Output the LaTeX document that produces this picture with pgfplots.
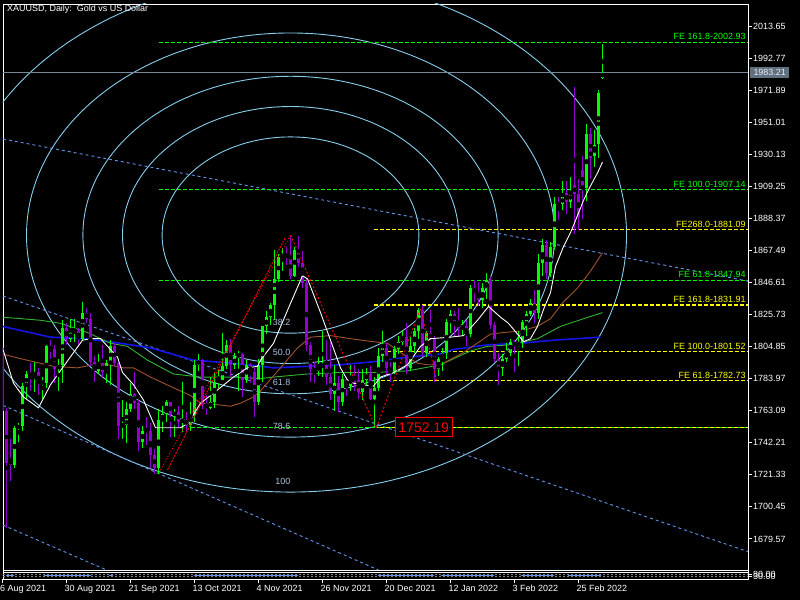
\documentclass[border=0pt]{standalone}
\usepackage{pgfplots}
\pgfplotsset{compat=1.18}
\usepackage{pgfplotstable}
\usepackage{fontspec}
\setmainfont{Liberation Sans}
\pgfdeclarelayer{bg}
\pgfsetlayers{bg,main}
\definecolor{bullc}{RGB}{0,255,0}
\definecolor{bearc}{RGB}{148,0,211}
\definecolor{arcc}{RGB}{135,206,235}
\definecolor{chanc}{RGB}{100,149,237}
\definecolor{mabrown}{RGB}{160,82,45}
\definecolor{magreen}{RGB}{50,180,50}
\definecolor{mablue}{RGB}{20,20,230}
\definecolor{pricel}{RGB}{119,136,153}
\definecolor{lvl}{RGB}{168,196,224}
\definecolor{boxg}{RGB}{96,112,128}
\definecolor{yelc}{RGB}{255,255,0}
\definecolor{redc}{RGB}{255,0,0}

\pgfplotstableread{
i o h l c
3 1728 1753 1726 1752
4 1752 1755 1743 1753
5 1753 1781 1750 1779
6 1779 1789 1771 1787
8 1786 1795 1775 1788
10 1781 1785 1771 1782
11 1781 1806 1778 1805
14 1790 1797 1776 1793
15 1793 1822 1781 1817
17 1810 1823 1808 1814
18 1814 1823 1808 1815
20 1810 1834 1809 1827
24 1789 1800 1787 1794
26 1788 1796 1781 1794
27 1794 1809 1780 1805
30 1753 1770 1745 1754
31 1754 1769 1742 1764
32 1764 1781 1762 1774
35 1743 1753 1739 1750
39 1726 1764 1722 1757
40 1757 1766 1749 1761
41 1761 1770 1756 1769
43 1760 1764 1746 1762
45 1756 1782 1749 1757
47 1754 1769 1750 1760
48 1760 1796 1756 1793
49 1793 1800 1789 1796
52 1765 1785 1764 1769
53 1769 1788 1765 1782
54 1782 1790 1778 1783
55 1783 1814 1783 1792
56 1792 1809 1790 1806
58 1793 1801 1790 1798
59 1798 1802 1776 1800
61 1783 1796 1781 1793
64 1769 1797 1767 1793
65 1793 1818 1782 1818
66 1818 1828 1813 1824
67 1824 1833 1819 1832
68 1832 1868 1822 1849
69 1849 1865 1847 1863
70 1863 1869 1854 1865
73 1851 1870 1850 1868
79 1789 1798 1786 1792
80 1792 1815 1785 1793
83 1774 1793 1763 1781
85 1769 1787 1766 1784
87 1779 1793 1776 1785
90 1775 1790 1770 1783
91 1783 1791 1780 1787
93 1771 1785 1752.19 1778
94 1778 1804 1776 1799
95 1799 1815 1795 1804
98 1789 1805 1787 1803
99 1803 1812 1800 1808
100 1808 1815 1806 1811
102 1791 1811 1789 1805
103 1805 1817 1801 1815
104 1815 1830 1810 1829
106 1801 1815 1798 1814
109 1790 1798 1786 1797
110 1797 1804 1789 1801
111 1801 1823 1797 1821
112 1821 1829 1814 1826
115 1817 1822 1812 1818
117 1813 1845 1811 1843
120 1835 1846 1830 1843
121 1843 1853 1836 1848
125 1791 1800 1786 1797
126 1797 1807 1795 1801
127 1801 1810 1799 1808
129 1805 1815 1792 1808
130 1808 1822 1804 1821
131 1821 1828 1812 1826
132 1826 1836 1825 1833
134 1827 1865 1823 1859
135 1859 1875 1851 1871
137 1853 1873 1850 1870
138 1870 1902 1868 1898
140 1898 1913 1894 1902
142 1899 1915 1895 1905
146 1908 1950 1900 1943
148 1929 1946 1922 1936
149 1937 1972 1928 1970
150 1980 2002 1979 1983.21
}\bull

\pgfplotstableread{
i o h l c
0 1804 1805 1759 1763
1 1763 1765 1687 1729
2 1731 1745 1717 1728
7 1787 1794 1776 1786
9 1788 1791 1773 1781
12 1805 1809 1797 1803
13 1803 1806 1781 1790
16 1817 1820 1806 1810
19 1815 1817 1805 1810
21 1827 1830 1820 1823
22 1823 1827 1792 1795
23 1795 1799 1782 1789
25 1794 1806 1785 1788
28 1805 1807 1792 1794
29 1794 1795 1745 1753
33 1774 1788 1764 1768
34 1768 1770 1737 1743
36 1751 1759 1741 1750
37 1750 1755 1726 1734
38 1734 1738 1721.9 1726
42 1769 1769 1746 1760
44 1762 1766 1752 1756
46 1757 1762 1749 1754
50 1796 1797 1764 1767
51 1767 1773 1760 1765
57 1806 1810 1785 1793
60 1800 1801 1772 1783
62 1793 1794 1781 1788
63 1788 1791 1759 1769
71 1865 1870 1858 1863
72 1863 1877 1849 1851
74 1868 1877 1857 1859
75 1859 1867 1843 1846
76 1846 1849 1802 1806
77 1806 1808 1782 1790
78 1790 1795 1781 1789
81 1793 1809 1780 1785
82 1785 1808 1770 1774
84 1781 1786 1762 1769
86 1784 1785 1773 1779
88 1785 1793 1776 1783
89 1783 1790 1771 1775
92 1787 1792 1770 1771
96 1804 1807 1786 1791
97 1791 1795 1782 1789
101 1811 1820 1787 1791
105 1829 1832 1798 1801
107 1814 1829 1809 1810
108 1810 1812 1782 1790
113 1826 1828 1812 1821
114 1821 1830 1811 1817
116 1818 1822 1805 1813
118 1843 1848 1834 1840
119 1840 1847 1831 1835
122 1848 1850 1816 1819
123 1819 1821 1795 1797
124 1797 1801 1780 1791
128 1808 1809 1788 1805
133 1833 1842 1820 1827
136 1871 1874 1849 1853
139 1898 1902 1887 1897
141 1905 1913 1891 1899
143 1910 1974 1878 1904
144 1904 1914 1881 1889
145 1920 1929 1888 1908
147 1943 1947 1914 1928
}\bear

\begin{document}
\begin{tikzpicture}[x=1bp,y=1bp]
\begin{axis}[
  scale only axis,
  width=745bp, height=575.3bp,
  xmin=0.125, xmax=186.375, ymin=1653.29, ymax=2027.98,
  axis background/.style={fill=black},
  axis line style={white, line width=0.9bp},
  xtick={16,32,48,64,80,96,112,128,144},
  xticklabels={30 Aug 2021,21 Sep 2021,13 Oct 2021,4 Nov 2021,26 Nov 2021,20 Dec 2021,12 Jan 2022,3 Feb 2022,25 Feb 2022},
  ytick={1679.57,1700.45,1721.33,1742.21,1763.09,1783.97,1804.85,1825.73,1846.61,1867.49,1888.37,1909.25,1930.13,1951.01,1971.89,1992.77,2013.65},
  yticklabels={1679.57,1700.45,1721.33,1742.21,1763.09,1783.97,1804.85,1825.73,1846.61,1867.49,1888.37,1909.25,1930.13,1951.01,1971.89,1992.77,2013.65},
  extra y ticks={1656.29,1654.99},
  extra y tick labels={80.00,30.00},
  xtick pos=bottom, ytick pos=right, yticklabel pos=right,
  tick align=outside, major tick length=4bp,
  every tick/.style={white, line width=0.9bp},
  xticklabel style={white, font=\fontsize{9}{10}\selectfont, anchor=north west, inner sep=0pt, xshift=-2bp, yshift=-1.7bp},
  yticklabel style={white, font=\fontsize{9}{10}\selectfont, anchor=west, inner sep=0pt, xshift=1bp},
  unbounded coords=jump,
]
% Fibonacci arcs
\draw[arcc, line width=0.9bp] (axis cs:72,1877.5) ellipse [x radius=84, y radius=167.4];
\draw[arcc, line width=0.9bp] (axis cs:72,1877.5) ellipse [x radius=66, y radius=131.6];
\draw[arcc, line width=0.9bp] (axis cs:72,1877.5) ellipse [x radius=51.9, y radius=103.4];
\draw[arcc, line width=0.9bp] (axis cs:72,1877.5) ellipse [x radius=42, y radius=83.7];
\draw[arcc, line width=0.9bp] (axis cs:72,1877.5) ellipse [x radius=32.1, y radius=63.9];
% channel lines
\addplot[draw=chanc, line width=0.9bp, dash pattern=on 3bp off 3bp] coordinates {(0.125,1940.05) (186.375,1847.5)};
\addplot[draw=chanc, line width=0.9bp, dash pattern=on 3bp off 3bp] coordinates {(0.125,1837.8) (186.375,1671.3)};
\addplot[draw=chanc, line width=0.9bp, dash pattern=on 3bp off 3bp] coordinates {(0.125,1766.6) (94,1659.35)};
\addplot[draw=chanc, line width=0.9bp, dash pattern=on 3bp off 3bp] coordinates {(0.125,1688.6) (26,1659.35)};
% FE green
\addplot[draw=bullc, line width=1bp, dash pattern=on 4bp off 2bp] coordinates {(39,2002.93) (186.375,2002.93)};
\addplot[draw=bullc, line width=1bp, dash pattern=on 4bp off 2bp] coordinates {(39,1907.14) (186.375,1907.14)};
\addplot[draw=bullc, line width=1bp, dash pattern=on 4bp off 2bp] coordinates {(39,1847.94) (186.375,1847.94)};
\addplot[draw=bullc, line width=1bp, dash pattern=on 4bp off 2bp] coordinates {(47,1752.19) (186.375,1752.19)};
% FE yellow
\addplot[draw=yelc, line width=1.1bp, dash pattern=on 4bp off 2bp] coordinates {(92.75,1881.09) (186.375,1881.09)};
\addplot[draw=yelc, line width=1.1bp, dash pattern=on 4bp off 2bp] coordinates {(92.75,1831.91) (186.375,1831.91)};
\addplot[draw=yelc, line width=1.1bp, dash pattern=on 4bp off 2bp] coordinates {(94.5,1801.52) (186.375,1801.52)};
\addplot[draw=yelc, line width=1.1bp, dash pattern=on 4bp off 2bp] coordinates {(94.5,1782.73) (186.375,1782.73)};
\addplot[draw=yelc, line width=1.8bp, dash pattern=on 4bp off 2bp, dash phase=3bp] coordinates {(93.5,1752.19) (186.375,1752.19)};
% price line
\addplot[draw=pricel, line width=0.9bp] coordinates {(0.125,1983.21) (186.375,1983.21)};
% moving averages
\addplot[draw=mablue, line width=1.6bp] coordinates {(0,1818) (12,1811) (20.25,1810) (27,1808) (37,1804) (47.75,1796) (57.75,1794) (64.5,1792) (67.75,1791) (76.25,1792) (84.5,1793) (92.75,1795) (101.25,1798) (109.5,1800) (112.75,1803) (121.25,1806) (129.5,1807) (137.75,1809) (149.5,1811)};
\addplot[draw=magreen, line width=0.9bp] coordinates {(0,1824) (9.5,1822) (14.5,1820) (21.25,1814) (27,1807) (31.25,1805) (36.25,1796) (42.75,1787) (49.5,1785) (57.75,1785) (64.5,1784) (67.75,1785) (76.25,1787) (84.5,1788) (92.75,1788) (101.25,1789) (109.5,1793) (117,1802) (121.25,1805) (127,1806) (133.75,1810) (139.5,1818) (145.25,1823) (150,1827)};
\addplot[draw=mabrown, line width=0.9bp] coordinates {(0,1800) (4.5,1797) (12.75,1792) (18.75,1791) (24.5,1794) (30.25,1791) (32.75,1791) (37,1785) (42.75,1778) (47,1773) (49.5,1768) (53.75,1767) (57,1766) (59.5,1768) (62.75,1772) (64.5,1776) (69.5,1791) (73.75,1804) (77,1811) (82,1812) (87,1810) (92.75,1808) (96.25,1807) (99.5,1801) (103.75,1794) (106.25,1793) (109.5,1793) (115.25,1801) (122,1813) (125.25,1814) (129.5,1815) (133.75,1818) (137,1823) (140.25,1834) (143.75,1843) (147,1854) (148.75,1861) (150,1866)};
% candles: wicks
\addplot[only marks, mark=none, forget plot, error bars/.cd, y dir=both, y explicit, error mark=none, error bar style={draw=bullc, line width=1bp}]
  table[x=i, y expr={(\thisrow{h}+\thisrow{l})/2}, y error expr={(\thisrow{h}-\thisrow{l})/2}] {\bull};
\addplot[only marks, mark=none, forget plot, error bars/.cd, y dir=both, y explicit, error mark=none, error bar style={draw=bearc, line width=1bp}]
  table[x=i, y expr={(\thisrow{h}+\thisrow{l})/2}, y error expr={(\thisrow{h}-\thisrow{l})/2}] {\bear};
% candles: bodies
\addplot[only marks, mark=none, forget plot, error bars/.cd, y dir=both, y explicit, error mark=none, error bar style={draw=bullc, line width=3bp}]
  table[x=i, y expr={(\thisrow{o}+\thisrow{c})/2}, y error expr={max((\thisrow{c}-\thisrow{o})/2,0.35)}] {\bull};
\addplot[only marks, mark=none, forget plot, error bars/.cd, y dir=both, y explicit, error mark=none, error bar style={draw=bearc, line width=3bp}]
  table[x=i, y expr={(\thisrow{o}+\thisrow{c})/2}, y error expr={max((\thisrow{o}-\thisrow{c})/2,0.35)}] {\bear};
% white fast MA
\addplot[draw=white, line width=0.9bp] coordinates {(0,1804) (2.75,1781) (5.25,1772) (9,1765) (12,1780) (15,1791) (20,1809) (22,1810) (24.5,1810) (28.75,1798) (30,1788) (32.75,1780) (35.25,1770) (38.25,1752) (41.25,1752) (44.5,1752) (46.5,1755) (49.5,1768) (52,1773) (57.75,1785) (61.25,1791) (63.75,1792) (64.5,1796) (67.75,1807) (72,1833) (75,1851) (76.25,1849) (79.5,1827) (82,1809) (84.5,1791) (86.25,1783) (87.75,1781) (92.75,1779) (94.5,1785) (97.75,1788) (101.25,1793) (104.5,1805) (107,1810) (112,1811) (115.25,1812) (118.75,1822) (121.5,1831) (124.5,1824) (126.5,1820) (128.75,1813) (130.25,1808) (132,1810) (133.75,1818) (135.25,1829) (137,1840) (138.25,1857) (140.25,1870) (142,1879) (143.25,1887) (145.25,1900) (146.5,1907) (148.75,1918) (150,1925)};
% red legs
\addplot[draw=redc, line width=0.9bp, dash pattern=on 2bp off 1bp] coordinates {(41.25,1724.5) (70.75,1876.2)};
\addplot[draw=redc, line width=0.9bp, dash pattern=on 1bp off 2bp] coordinates {(39.5,1724.5) (72,1877.5)};
\addplot[draw=redc, line width=0.9bp, dash pattern=on 2bp off 2bp] coordinates {(72,1877.5) (93.25,1752.5)};
\addplot[draw=redc, line width=0.9bp, dash pattern=on 2bp off 2bp] coordinates {(93.5,1752.2) (104.5,1830) (108.5,1783)};
% indicator sub-window (separator, levels, line)
\addplot[draw=white, line width=0.9bp] coordinates {(0.125,1658.89) (186.375,1658.89)};
\addplot[draw=white, line width=0.9bp] coordinates {(0.125,1657.59) (186.375,1657.59)};
\addplot[draw=gray, line width=0.8bp, dash pattern=on 2bp off 2bp] coordinates {(0.125,1656.29) (186.375,1656.29)};
\addplot[draw=gray, line width=0.8bp, dash pattern=on 2bp off 2bp] coordinates {(0.125,1654.99) (186.375,1654.99)};
\addplot[draw=chanc, line width=1.5bp] coordinates {(0.75,1655.64) (2.75,1655.64) (3,nan) (10.25,1655.64) (22,1655.64) (23,nan) (26.5,1655.64) (27.5,1655.64) (28,nan) (47.75,1655.64) (73.75,1655.64) (74,nan) (93.75,1655.64) (107.75,1655.64) (108,nan) (109.5,1655.64) (122.75,1655.64) (123,nan) (129.5,1655.64) (137.75,1655.64) (138,nan) (141.25,1655.64) (149.5,1655.64)};
% labels
\node[anchor=base east, inner sep=0pt, text=lvl, font=\fontsize{9}{10}\selectfont, yshift=8bp] at (axis cs:72,1813.6) {38.2};
\node[anchor=base east, inner sep=0pt, text=lvl, font=\fontsize{9}{10}\selectfont, yshift=8bp] at (axis cs:72,1793.8) {50.0};
\node[anchor=base east, inner sep=0pt, text=lvl, font=\fontsize{9}{10}\selectfont, yshift=8bp] at (axis cs:72,1774.1) {61.8};
\node[anchor=base east, inner sep=0pt, text=lvl, font=\fontsize{9}{10}\selectfont, yshift=8bp] at (axis cs:72,1745.9) {78.6};
\node[anchor=base east, inner sep=0pt, text=lvl, font=\fontsize{9}{10}\selectfont, yshift=8bp] at (axis cs:72,1710.1) {100};
\node[anchor=base east, inner sep=0pt, text=bullc, font=\fontsize{9}{10}\selectfont, yshift=2.5bp] at (axis cs:185.8,2002.93) {FE 161.8-2002.93};
\node[anchor=base east, inner sep=0pt, text=bullc, font=\fontsize{9}{10}\selectfont, yshift=2.5bp] at (axis cs:185.8,1907.14) {FE 100.0-1907.14};
\node[anchor=base east, inner sep=0pt, text=bullc, font=\fontsize{9}{10}\selectfont, yshift=2.5bp] at (axis cs:185.8,1847.94) {FE 61.8-1847.94};
\node[anchor=base east, inner sep=0pt, text=yelc, font=\fontsize{9}{10}\selectfont, yshift=2.5bp] at (axis cs:185.8,1881.09) {FE268.0-1881.09};
\node[anchor=base east, inner sep=0pt, text=yelc, font=\fontsize{9}{10}\selectfont, yshift=2.5bp] at (axis cs:185.8,1831.91) {FE 161.8-1831.91};
\node[anchor=base east, inner sep=0pt, text=yelc, font=\fontsize{9}{10}\selectfont, yshift=2.5bp] at (axis cs:185.8,1801.52) {FE 100.0-1801.52};
\node[anchor=base east, inner sep=0pt, text=yelc, font=\fontsize{9}{10}\selectfont, yshift=2.5bp] at (axis cs:185.8,1782.73) {FE 61.8-1782.73};
\node[draw=redc, fill=black, text=redc, line width=0.9bp, inner sep=1pt, minimum width=57bp, minimum height=19bp, font=\fontsize{14}{15}\selectfont] at (axis cs:105.3,1752.2) {1752.19};
\coordinate (A) at (rel axis cs:0,0);
\end{axis}
\begin{pgfonlayer}{bg}
\fill[black] ([shift={(-3bp,-20.7bp)}]A) rectangle ++(800bp,600bp);
\end{pgfonlayer}
\draw[white, line width=0.9bp] ([shift={(-0.5bp,0bp)}]A) -- ++(0,-4bp);
\node[anchor=north west, inner sep=0pt, text=white, font=\fontsize{9}{10}\selectfont] at ([shift={(-3bp,-5.7bp)}]A) {6 Aug 2021};
\node[anchor=base west, inner sep=0pt, text=white, font=\fontsize{9}{10}\selectfont] at ([shift={(4bp,567.3bp)}]A) {XAUUSD, Daily:\ \ Gold vs US Dollar};
\node[anchor=west, fill=boxg, text=white!85!gray, inner sep=1pt, minimum height=11bp, minimum width=39bp, font=\fontsize{9}{10}\selectfont] at ([shift={(747bp,507.1bp)}]A) {1983.21};
\pgfresetboundingbox
\path[use as bounding box] ([shift={(-3bp,-20.7bp)}]A) rectangle ++(800bp,600bp);
\end{tikzpicture}
\end{document}
